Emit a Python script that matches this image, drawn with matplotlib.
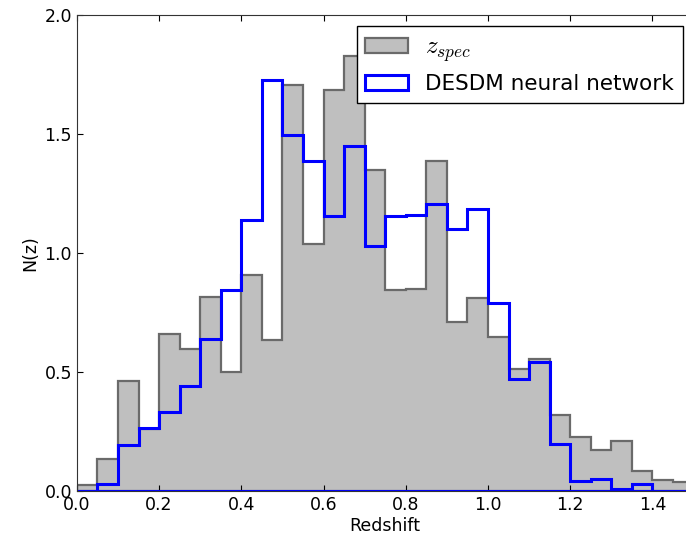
import matplotlib
matplotlib.use("Agg")
import matplotlib.pyplot as plt
import numpy as np

plt.rcParams["mathtext.fontset"] = "cm"

# bin edges in redshift (width 0.05)
bin_edges = np.round(np.arange(0.0, 1.5001, 0.05), 2)

# N(z) of the spectroscopic sample
zspec_counts = [0.024, 0.136, 0.461, 0.26, 0.658, 0.597, 0.815, 0.501, 0.909, 0.634,
                1.707, 1.036, 1.685, 1.828, 1.347, 0.846, 0.85, 1.388, 0.711, 0.81,
                0.646, 0.513, 0.553, 0.318, 0.228, 0.172, 0.21, 0.085, 0.046, 0.039]

# N(z) from DESDM neural network photo-z
nn_counts = [0.0, 0.03, 0.192, 0.265, 0.333, 0.441, 0.637, 0.843, 1.137, 1.725,
             1.497, 1.385, 1.157, 1.451, 1.028, 1.157, 1.16, 1.204, 1.099, 1.183,
             0.789, 0.469, 0.541, 0.196, 0.043, 0.049, 0.007, 0.03, 0.0, 0.0]

centers = 0.5 * (bin_edges[:-1] + bin_edges[1:])

fig = plt.figure(figsize=(6.86, 5.33), dpi=100)
# axes run a bit past the right edge of the figure (cropped like the original)
ax = fig.add_axes([0.112, 0.079, 0.899, 0.893])

ax.hist(centers, bins=bin_edges, weights=zspec_counts, histtype="stepfilled",
        facecolor="#bfbfbf", edgecolor="#6a6a6a", linewidth=1.6, label=r"$z_{spec}$")
ax.hist(centers, bins=bin_edges, weights=nn_counts, histtype="step",
        color="blue", linewidth=2.2, label="DESDM neural network")
ax.plot(bin_edges[[0, -1]], [0, 0], color="blue", linewidth=2.2)

ax.set_xlim(0, 1.5)
ax.set_ylim(0, 2.0)
ax.set_xticks(np.arange(0, 1.41, 0.2))
ax.set_yticks(np.arange(0, 2.01, 0.5))
ax.xaxis.set_major_formatter(matplotlib.ticker.FormatStrFormatter("%.1f"))
ax.yaxis.set_major_formatter(matplotlib.ticker.FormatStrFormatter("%.1f"))
ax.tick_params(direction="in", top=True, right=True, length=4, labelsize=12.5)
for sp in ax.spines.values():
    sp.set_color("#333333")
ax.set_xlabel("Redshift", fontsize=12.5, labelpad=2)
ax.set_ylabel("N(z)", fontsize=12.5)

leg = ax.legend(loc="upper right", fontsize=15.5, fancybox=False, framealpha=1,
                edgecolor="black", borderaxespad=0.5, handlelength=2.0)
leg.get_frame().set_linewidth(1)
leg.get_texts()[0].set_fontsize(18)

fig.savefig("out.png", dpi=100)
